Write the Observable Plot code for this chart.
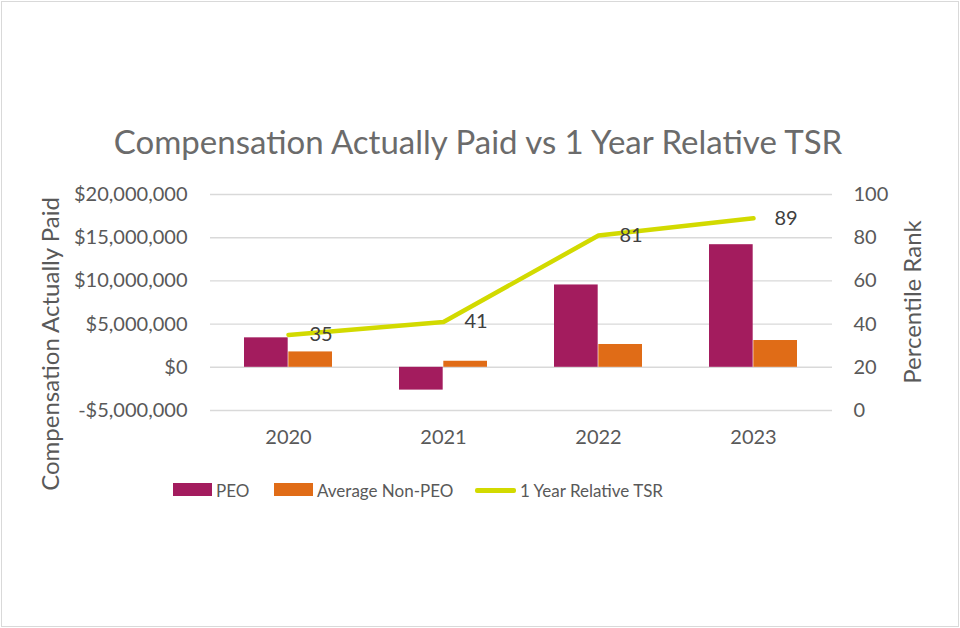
<!DOCTYPE html>
<html><head><meta charset="utf-8">
<script src="https://cdn.jsdelivr.net/npm/d3@7"></script>
<script src="https://cdn.jsdelivr.net/npm/@observablehq/plot@0.6"></script>
<style>
html,body{margin:0;padding:0;background:#fff;}
#wrap{position:relative;width:960px;height:628px;font-family:Lato, sans-serif;overflow:hidden;}
#frame{position:absolute;left:1px;top:1px;width:956px;height:624px;border:1px solid #d9d9d9;pointer-events:none;}
.t{position:absolute;color:#595959;white-space:nowrap;line-height:1;}
.sw{position:absolute;}
</style></head><body>
<div id="wrap"></div>
<script>
const years = ["2020", "2021", "2022", "2023"];
const peo = [3410000, -2640000, 9530000, 14190000];
const nonPeo = [1780000, 700000, 2640000, 3100000];
const tsr = [35, 41, 81, 89];
const leftTicks = [-5000000, 0, 5000000, 10000000, 15000000, 20000000];
const rightTicks = [0, 20, 40, 60, 80, 100];

const colors = {peo: "#A31C5E", non: "#E06C17", tsr: "#D2DA00"};
// right axis (0..100) mapped onto left domain (-5M..20M)
const toLeft = v => -5000000 + v * 250000;
const fromLeft = d => Math.round((d + 5000000) / 250000);

const peoRows = years.map((y, i) => ({year: y, value: peo[i]}));
const nonRows = years.map((y, i) => ({year: y, value: nonPeo[i]}));
const tsrRows = years.map((y, i) => ({year: y, v: tsr[i]}));

const W = 960, H = 628, mL = 210, mR = 128, mT = 194, mB = 218;
const padIn = 0.43;
const step = (W - mL - mR) / years.length;
const bw = step * (1 - padIn);

const fmt = d => (d < 0 ? "-" : "") + "$" + d3.format(",")(Math.abs(d));

const chart = Plot.plot({
  width: W, height: H,
  marginLeft: mL, marginRight: mR, marginTop: mT, marginBottom: mB,
  style: {fontFamily: "Lato, sans-serif", fontSize: "20px", color: "#595959", background: "transparent", overflow: "visible"},
  x: {type: "band", domain: years, paddingInner: padIn, paddingOuter: padIn / 2},
  y: {domain: [-5000000, 20000000]},
  marks: [
    Plot.gridY(leftTicks, {stroke: "#d9d9d9", strokeOpacity: 1, strokeWidth: 1.4}),
    Plot.barY(peoRows, {x: "year", y: "value", fill: colors.peo, insetLeft: 0, insetRight: bw / 2}),
    Plot.barY(nonRows, {x: "year", y: "value", fill: colors.non, insetLeft: bw / 2, insetRight: 0}),
    Plot.line(tsrRows, {x: "year", y: d => toLeft(d.v), stroke: colors.tsr, strokeWidth: 4.5, strokeLinecap: "round", strokeLinejoin: "round"}),
    Plot.text(tsrRows, {x: "year", y: d => toLeft(d.v), text: d => String(d.v), dx: 21, textAnchor: "start", fill: "#404040", fontSize: 20}),
    Plot.axisY(leftTicks, {anchor: "left", tickSize: 0, tickPadding: 23, tickFormat: fmt, label: null, fontSize: 20}),
    Plot.axisY(leftTicks, {anchor: "right", tickSize: 0, tickPadding: 21, tickFormat: fromLeft, label: null, fontSize: 20}),
    Plot.axisX({tickSize: 0, tickPadding: 19, label: null, fontSize: 20})
  ]
});

const wrap = document.getElementById("wrap");
wrap.appendChild(chart);
chart.style.position = "absolute";
chart.style.left = "0px";
chart.style.top = "0px";

function addText(txt, css) {
  const d = document.createElement("div");
  d.className = "t";
  d.textContent = txt;
  Object.assign(d.style, css);
  wrap.appendChild(d);
  return d;
}
function addSwatch(css) {
  const d = document.createElement("div");
  d.className = "sw";
  Object.assign(d.style, css);
  wrap.appendChild(d);
}

// title
addText("Compensation Actually Paid vs 1 Year Relative TSR", {left: "478px", top: "141px", fontSize: "33px", transform: "translate(-50%,-50%)", color: "#6b6b6b"});
// axis titles
addText("Compensation Actually Paid", {left: "50px", top: "344px", fontSize: "24px", transform: "translate(-50%,-50%) rotate(-90deg)"});
addText("Percentile Rank", {left: "912px", top: "302px", fontSize: "24px", transform: "translate(-50%,-50%) rotate(-90deg)"});

// legend
const legendItems = [
  {label: "PEO", color: colors.peo, type: "rect", x: 173, w: 39},
  {label: "Average Non-PEO", color: colors.non, type: "rect", x: 274, w: 39},
  {label: "1 Year Relative TSR", color: colors.tsr, type: "line", x: 475, w: 41}
];
legendItems.forEach(it => {
  if (it.type === "rect") {
    addSwatch({left: it.x + "px", top: "483px", width: it.w + "px", height: "13px", background: it.color});
  } else {
    addSwatch({left: it.x + "px", top: "488px", width: it.w + "px", height: "4.5px", background: it.color, borderRadius: "2px"});
  }
  addText(it.label, {left: (it.x + it.w + 4) + "px", top: "490px", fontSize: "17px", transform: "translateY(-50%)"});
});

const frame = document.createElement("div");
frame.id = "frame";
wrap.appendChild(frame);
</script>
</body></html>
